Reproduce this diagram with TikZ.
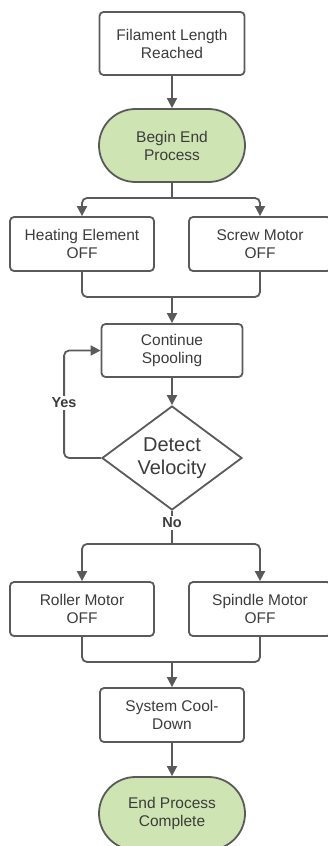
\documentclass[tikz,border=0pt]{standalone}
\usepackage{fontspec}
\setmainfont{Liberation Sans}
\usetikzlibrary{arrows.meta,shapes.geometric,shapes.misc}
\definecolor{edgegray}{RGB}{90,90,90}
\definecolor{textgray}{RGB}{60,60,60}
\definecolor{startgreen}{RGB}{206,228,178}

\begin{document}
\begin{tikzpicture}[x=1pt, y=-1pt,
  every node/.style={text=textgray, align=center,
    font=\fontsize{15.5}{18}\selectfont},
  process/.style={draw=edgegray, line width=1.8pt, rounded corners=4pt,
    fill=white, minimum width=144pt, minimum height=54pt, inner sep=0pt},
  terminal/.style={rounded rectangle, draw=edgegray, line width=1.8pt,
    fill=startgreen, minimum width=146pt, minimum height=73pt, inner sep=0pt},
  decision/.style={diamond, draw=edgegray, line width=1.8pt, fill=white,
    aspect=1.35, inner sep=0pt, minimum width=140pt, minimum height=104pt,
    font=\fontsize{20}{23}\selectfont},
  link/.style={draw=edgegray, line width=1.8pt, rounded corners=5pt},
  flow/.style={link, -{Triangle[length=10pt,width=10pt]}},
  answer/.style={fill=white, inner sep=1.5pt,
    font=\bfseries\fontsize{14.5}{17}\selectfont}]
  \useasboundingbox (0,0) rectangle (328,846);
  \clip (0,0) rectangle (328,846);
  % Start of the shut-down sequence.
  \node[process, minimum width=145pt, minimum height=63pt] (reached)
    at (172,43.5) {Filament Length\\Reached};
  \node[terminal] (beginend) at (172,145.5) {Begin End\\Process};
  % First pair of motors and heaters switched off.
  \node[process] (heating) at (82,244) {Heating Element\\OFF};
  \node[process, minimum width=142pt] (screw) at (260,244) {Screw Motor\\OFF};
  % Spooling loop.
  \node[process, minimum width=141pt, minimum height=53pt] (spooling)
    at (172,350.5) {Continue\\Spooling};
  \node[decision] (velocity) at (172,458) {Detect\\Velocity};
  % Second pair switched off.
  \node[process] (roller) at (82,609) {Roller Motor\\OFF};
  \node[process, minimum width=142pt] (spindle) at (260,609) {Spindle Motor\\OFF};
  % Finish.
  \node[process] (cooldown) at (172,715) {System Cool-\\Down};
  \node[terminal] (endproc) at (172,813.5) {End Process\\Complete};
  % Branch and merge points.
  \coordinate (split1) at (172,198);
  \coordinate (merge1) at (172,297);
  \coordinate (split2) at (172,544);
  \coordinate (merge2) at (172,662);
  % Connectors.
  \draw[flow] (reached) -- (beginend);
  \draw[link] (beginend.south) -- (split1);
  \draw[flow] (split1) -| (heating.north);
  \draw[flow] (split1) -| (screw.north);
  \draw[link] (heating.south) |- (merge1) -| (screw.south);
  \draw[flow] (merge1) -- (spooling.north);
  \draw[flow] (spooling.south) -- (velocity.north);
  \draw[flow] (velocity.west) -- ++(-37,0) |- (spooling.west);
  \draw[link] (velocity.south) -- (split2);
  \draw[flow] (split2) -| (roller.north);
  \draw[flow] (split2) -| (spindle.north);
  \draw[link] (roller.south) |- (merge2) -| (spindle.south);
  \draw[flow] (merge2) -- (cooldown.north);
  \draw[flow] (cooldown) -- (endproc);
  % Answers of the decision.
  \node[answer] (yes) at (64,403) {Yes};
  \node[answer] (no) at (172,523) {No};
\end{tikzpicture}
\end{document}
